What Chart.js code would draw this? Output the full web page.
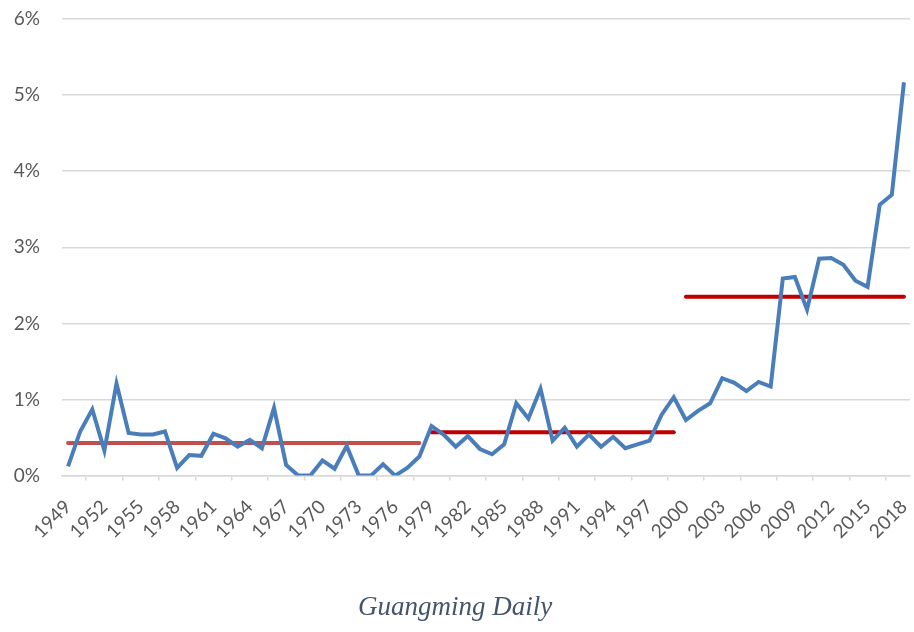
<!DOCTYPE html>
<html>
<head>
<meta charset="utf-8">
<script src="https://cdn.jsdelivr.net/npm/chart.js@4"></script>
<style>
    body { margin: 0; background: #fff; }
    #wrap { width: 914px; height: 632px; }
</style>
</head>
<body>
<div id="wrap"><canvas id="myChart"></canvas></div>
<script>
// years 1949 - 2018
const years = []
for (let y = 1949; y <= 2018; y++) {
    years.push(String(y))
}

// share per year, in percent
const share = [
    0.12, 0.58, 0.87, 0.33, 1.21, 0.56, 0.54, 0.54, 0.58, 0.10,
    0.27, 0.26, 0.55, 0.49, 0.38, 0.47, 0.36, 0.89, 0.14, 0.00,
    0.00, 0.20, 0.09, 0.39, 0.00, 0.00, 0.15, 0.00, 0.10, 0.25,
    0.65, 0.54, 0.38, 0.52, 0.35, 0.28, 0.41, 0.95, 0.75, 1.14,
    0.46, 0.63, 0.38, 0.54, 0.38, 0.51, 0.36, 0.41, 0.46, 0.80,
    1.03, 0.73, 0.85, 0.95, 1.28, 1.22, 1.11, 1.23, 1.17, 2.59,
    2.61, 2.18, 2.85, 2.86, 2.77, 2.56, 2.48, 3.56, 3.69, 5.17
]

// period averages
const periodStart = ['1949', '1979', '2000']
const periodEnd = ['1978', '1999', '2018']
const periodMean = [0.43, 0.57, 2.35]
const periodColor = ['#C0504D', '#C00000', '#C00000']

const yTicks = [0, 1, 2, 3, 4, 5, 6]

function meanLine(k) {
    const a = years.indexOf(periodStart[k])
    const b = years.indexOf(periodEnd[k])
    return years.map((y, i) => (i >= a && i <= b) ? periodMean[k] : null)
}

const datasets = [{
    label: 'share',
    data: share,
    borderColor: '#4A7EBB',
    borderWidth: 4,
    pointRadius: 0,
    tension: 0,
    order: 0
}]
for (let k = 0; k < periodMean.length; k++) {
    datasets.push({
        label: 'mean ' + k,
        data: meanLine(k),
        borderColor: periodColor[k],
        borderWidth: 4,
        borderCapStyle: 'round',
        pointRadius: 0,
        spanGaps: false,
        order: 1
    })
}

const ctx = document.getElementById('myChart').getContext('2d')
const myChart = new Chart(ctx, {
    type: 'line',
    data: {
        labels: years,
        datasets: datasets
    },
    options: {
        responsive: true,
        maintainAspectRatio: false,
        animation: false,
        layout: {
            padding: { top: 19, right: 4, bottom: 8, left: 0 }
        },
        plugins: {
            legend: { display: false },
            tooltip: { enabled: false },
            title: {
                display: true,
                position: 'bottom',
                text: 'Guangming Daily',
                color: '#44546A',
                font: { family: 'Liberation Serif', style: 'italic', size: 27, weight: 'normal' },
                padding: 0
            }
        },
        scales: {
            x: {
                offset: true,
                grid: {
                    offset: true,
                    drawOnChartArea: false,
                    drawTicks: true,
                    tickLength: 5,
                    tickColor: '#D9D9D9',
                    lineWidth: 1.5
                },
                border: { color: '#D9D9D9', width: 1.5 },
                ticks: {
                    autoSkip: false,
                    minRotation: 45,
                    maxRotation: 45,
                    padding: 15,
                    color: '#595959',
                    font: { family: 'Lato', size: 19 },
                    callback: function (value, index) {
                        return index % 3 === 0 ? years[index] : null
                    }
                },
                afterFit: function (scale) {
                    scale.height = 116
                    scale.paddingRight = 0
                    scale.paddingTop = 0
                }
            },
            y: {
                min: 0,
                max: 6,
                afterBuildTicks: function (scale) {
                    scale.ticks = yTicks.map(v => ({ value: v }))
                },
                grid: {
                    color: '#D9D9D9',
                    lineWidth: 1.5,
                    drawTicks: false
                },
                border: { display: false },
                ticks: {
                    padding: 22,
                    color: '#595959',
                    font: { family: 'Lato', size: 19 },
                    callback: function (value) {
                        return value + '%'
                    }
                },
                afterFit: function (scale) {
                    scale.width = 62
                    scale.paddingTop = 0
                }
            }
        }
    }
})
</script>
</body>
</html>
